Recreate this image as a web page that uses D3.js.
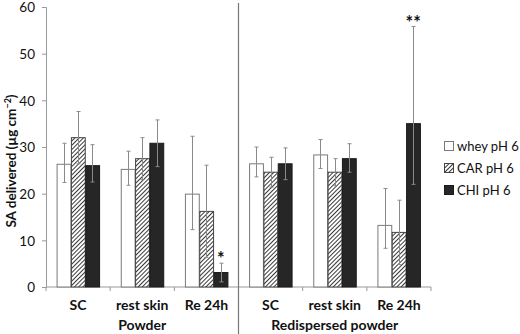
<!DOCTYPE html>
<html>
<head>
<meta charset="utf-8">
<script src="https://cdn.jsdelivr.net/npm/d3@7"></script>
<style>
  body { margin: 0; background: #fff; }
  text { font-family: Lato, 'Open Sans', sans-serif; fill: #111; }
</style>
</head>
<body>
<script>
// categories along x, two treatment groups of three
const categories = ['SC', 'rest skin', 'Re 24h', 'SC', 'rest skin', 'Re 24h']
const groups = ['Powder', 'Redispersed powder']
const seriesNames = ['whey pH 6', 'CAR pH 6', 'CHI pH 6']
const yTicks = [0, 10, 20, 30, 40, 50, 60]

// values
const whey = [26.3, 25.2, 19.9, 26.4, 28.3, 13.2]
const car = [32.0, 27.5, 16.2, 24.6, 24.6, 11.7]
const chi = [26.0, 30.8, 3.1, 26.4, 27.5, 35.0]

// error bars, upper and lower extent
const wheyErrUp = [4.5, 3.9, 12.4, 3.6, 3.3, 7.9]
const wheyErrDown = [3.9, 3.4, 7.6, 2.8, 2.9, 4.9]
const carErrUp = [5.6, 4.5, 9.9, 3.2, 2.9, 6.9]
const carErrDown = [5.6, 4.5, 9.9, 3.2, 2.9, 6.9]
const chiErrUp = [4.5, 5.0, 2.0, 3.4, 3.2, 20.8]
const chiErrDown = [3.5, 5.0, 2.0, 3.4, 2.9, 13.0]

// significance marks above CHI bars
const marks = ['', '', '*', '', '', '**']

const W = 520
const H = 334
const margin = { left: 46, right: 89, top: 7, bottom: 47 }

const svg = d3.select('body').append('svg')
  .attr('width', W)
  .attr('height', H)

const defs = svg.append('defs')
const pat = defs.append('pattern')
  .attr('id', 'hatch')
  .attr('patternUnits', 'userSpaceOnUse')
  .attr('width', 3)
  .attr('height', 3)
  .attr('patternTransform', 'rotate(45)')
pat.append('rect').attr('width', 3).attr('height', 3).attr('fill', '#fff')
pat.append('line')
  .attr('x1', 0).attr('y1', 0).attr('x2', 0).attr('y2', 3)
  .attr('stroke', '#222').attr('stroke-width', 1.8)

const fills = ['#fff', 'url(#hatch)', '#262626']
const strokes = ['#7a7a7a', '#444', '#1a1a1a']

const x = d3.scaleBand()
  .domain(d3.range(categories.length))
  .range([margin.left, W - margin.right])
  .paddingInner(0.33)
  .paddingOuter(0.165)

const xSub = d3.scaleBand()
  .domain(d3.range(seriesNames.length))
  .range([0, x.bandwidth()])

const y = d3.scaleLinear()
  .domain([0, 60])
  .range([H - margin.bottom, margin.top])

const series = [
  { vals: whey, up: wheyErrUp, down: wheyErrDown },
  { vals: car, up: carErrUp, down: carErrDown },
  { vals: chi, up: chiErrUp, down: chiErrDown }
]

// y axis
const yAxis = svg.append('g')
  .attr('transform', `translate(${margin.left},0)`)
  .call(d3.axisLeft(y).tickValues(yTicks).tickSize(4).tickPadding(7))
yAxis.select('.domain').attr('stroke', '#999')
yAxis.selectAll('.tick line').attr('stroke', '#999')
yAxis.selectAll('.tick text')
  .style('font-size', '13.5px')
  .style('fill', '#111')
  .attr('dy', '0.36em')
  .attr('font-family', 'Lato, sans-serif')

// x axis baseline with ticks at category boundaries
const step = x.step()
const x0 = margin.left
const x1 = W - margin.right
svg.append('line')
  .attr('x1', x0).attr('x2', x1)
  .attr('y1', y(0)).attr('y2', y(0))
  .attr('stroke', '#999')
svg.selectAll('.xtick')
  .data(d3.range(categories.length + 1))
  .enter().append('line')
  .attr('class', 'xtick')
  .attr('x1', d => x0 + d * step).attr('x2', d => x0 + d * step)
  .attr('y1', y(0)).attr('y2', y(0) + 4)
  .attr('stroke', '#999')

// bars
series.forEach((s, si) => {
  svg.append('g').selectAll('rect')
    .data(s.vals)
    .enter().append('rect')
    .attr('x', (d, i) => x(i) + xSub(si) + 0.5)
    .attr('y', d => y(d))
    .attr('width', xSub.bandwidth() - 0.5)
    .attr('height', d => y(0) - y(d))
    .attr('fill', fills[si])
    .attr('stroke', strokes[si])
    .attr('stroke-width', 1)
})

// error bars
series.forEach((s, si) => {
  const g = svg.append('g').attr('stroke', '#8a8a8a').attr('stroke-width', 1)
  s.vals.forEach((v, i) => {
    const cx = Math.round(x(i) + xSub(si) + xSub.bandwidth() / 2) + 0.5
    const top = y(v + s.up[i])
    const bot = y(v - s.down[i])
    g.append('line').attr('x1', cx).attr('x2', cx).attr('y1', top).attr('y2', bot)
    g.append('line').attr('x1', cx - 2).attr('x2', cx + 2).attr('y1', top).attr('y2', top)
    g.append('line').attr('x1', cx - 2).attr('x2', cx + 2).attr('y1', bot).attr('y2', bot)
  })
})

// significance marks
svg.selectAll('.mark')
  .data(marks)
  .enter().append('text')
  .attr('class', 'mark')
  .attr('x', (d, i) => x(i) + xSub(2) + xSub.bandwidth() / 2)
  .attr('y', (d, i) => y(chi[i] + chiErrUp[i]) + 2)
  .attr('text-anchor', 'middle')
  .style('font-size', '18px')
  .style('font-weight', 'bold')
  .text(d => d)

// separator between the two groups
svg.append('line')
  .attr('x1', x0 + 3 * step).attr('x2', x0 + 3 * step)
  .attr('y1', 3).attr('y2', H)
  .attr('stroke', '#777')
  .attr('stroke-width', 1.2)

// category labels
svg.selectAll('.cat')
  .data(categories)
  .enter().append('text')
  .attr('class', 'cat')
  .attr('x', (d, i) => x(i) + x.bandwidth() / 2)
  .attr('y', 310)
  .attr('text-anchor', 'middle')
  .style('font-size', '14px')
  .style('font-weight', 'bold')
  .text(d => d)

svg.selectAll('.grp')
  .data(groups)
  .enter().append('text')
  .attr('class', 'grp')
  .attr('x', (d, i) => x0 + (i * 3 + 1.5) * step)
  .attr('y', 330)
  .attr('text-anchor', 'middle')
  .style('font-size', '14px')
  .style('font-weight', 'bold')
  .text(d => d)

// y axis title
const yt = svg.append('text')
  .attr('transform', `translate(16,${(y(0) + y(60)) / 2 + 14}) rotate(-90)`)
  .attr('text-anchor', 'middle')
  .style('font-size', '13.5px')
  .style('font-weight', 'bold')
yt.append('tspan').text('SA delivered (µg cm')
yt.append('tspan').attr('dy', -5).style('font-size', '9px').text('−2')
yt.append('tspan').attr('dy', 5).text(')')

// legend
const legend = svg.append('g')
  .attr('transform', 'translate(444,146)')
seriesNames.forEach((name, i) => {
  const row = legend.append('g').attr('transform', `translate(0,${i * 22})`)
  row.append('rect')
    .attr('x', 0.5).attr('y', -4.5)
    .attr('width', 9).attr('height', 9)
    .attr('fill', fills[i])
    .attr('stroke', strokes[i])
  row.append('text')
    .attr('x', 13)
    .attr('y', 5)
    .style('font-size', '13px')
    .text(name)
})
</script>
</body>
</html>
